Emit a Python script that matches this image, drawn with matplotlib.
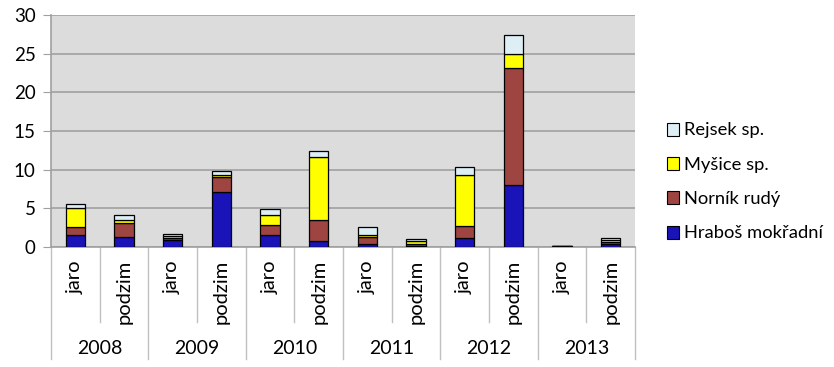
import numpy as np
import matplotlib.pyplot as plt
import matplotlib.transforms as mtransforms
from matplotlib.patches import Patch

plt.rcParams['font.family'] = ['Lato', 'DejaVu Sans']

# Data
years = ['2008', '2009', '2010', '2011', '2012', '2013']
seasons = ['jaro', 'podzim']
hrabos = [1.6, 1.35, 0.87, 7.1, 1.5, 0.75, 0.4, 0.1, 1.15, 8.0, 0.1, 0.45]
nornik = [1.05, 1.7, 0.3, 1.9, 1.3, 2.7, 0.95, 0.3, 1.6, 15.1, 0.05, 0.15]
mysice = [2.35, 0.5, 0.3, 0.3, 1.3, 8.25, 0.25, 0.35, 6.55, 1.9, 0.0, 0.3]
rejsek = [0.5, 0.6, 0.18, 0.55, 0.75, 0.7, 1.05, 0.3, 1.1, 2.4, 0.0, 0.3]

series = [
    ('Hraboš mokřadní', hrabos, '#1A13B8'),
    ('Norník rudý', nornik, '#9E4441'),
    ('Myšice sp.', mysice, '#FFFF00'),
    ('Rejsek sp.', rejsek, '#DDEEF5'),
]

fig = plt.figure(figsize=(8.34, 3.67), dpi=100)
ax = fig.add_axes([51 / 834, 1 - 247 / 367, 584 / 834, 232 / 367])
ax.set_facecolor('#DCDCDC')

x = np.arange(len(hrabos))
bottom = np.zeros(len(x))
for name, vals, color in series:
    ax.bar(x, vals, width=0.4, bottom=bottom, color=color,
           edgecolor='black', linewidth=0.9, zorder=3)
    bottom += np.array(vals)

ax.set_xlim(-0.5, len(x) - 0.5)
ax.set_ylim(0, 30)
ax.set_yticks(range(0, 31, 5))
ax.tick_params(axis='y', length=6, color='#A0A0A0', labelsize=13.5, pad=5)
ax.grid(axis='y', color='#A0A0A0', linewidth=1.2, zorder=0)
ax.set_axisbelow(True)
for s in ['top', 'right']:
    ax.spines[s].set_visible(False)
ax.spines['left'].set_color('#A0A0A0')
ax.spines['bottom'].set_color('#A0A0A0')
ax.spines['left'].set_linewidth(1.2)
ax.spines['bottom'].set_linewidth(1.2)

# two-level category axis
ax.set_xticks([])
trans = mtransforms.blended_transform_factory(ax.transData, ax.transAxes)
px = 1 / 232
for i in range(len(x) + 1):
    xb = i - 0.5
    if i % 2 == 0:
        y0 = -112 * px
    else:
        y0 = -75 * px
    ax.plot([xb, xb], [0, y0], color='#C0C0C0', lw=1, transform=trans, clip_on=False)
for i in range(len(x)):
    ax.text(i, -13 * px, seasons[i % 2], rotation=90, ha='center', va='top',
            fontsize=14.5, transform=trans)
for j, yr in enumerate(years):
    ax.text(2 * j + 0.5, -101 * px, yr, ha='center', va='center',
            fontsize=14, transform=trans)

handles = [Patch(facecolor=c, edgecolor='black', linewidth=0.8, label=n)
           for n, v, c in series][::-1]
fig.legend(handles=handles, loc='center left', bbox_to_anchor=(650 / 834, 1 - 182 / 367),
           frameon=False, fontsize=13.2, handlelength=0.7, handleheight=0.7,
           handletextpad=0.25, labelspacing=1.0)

fig.savefig('out.png', dpi=100)
